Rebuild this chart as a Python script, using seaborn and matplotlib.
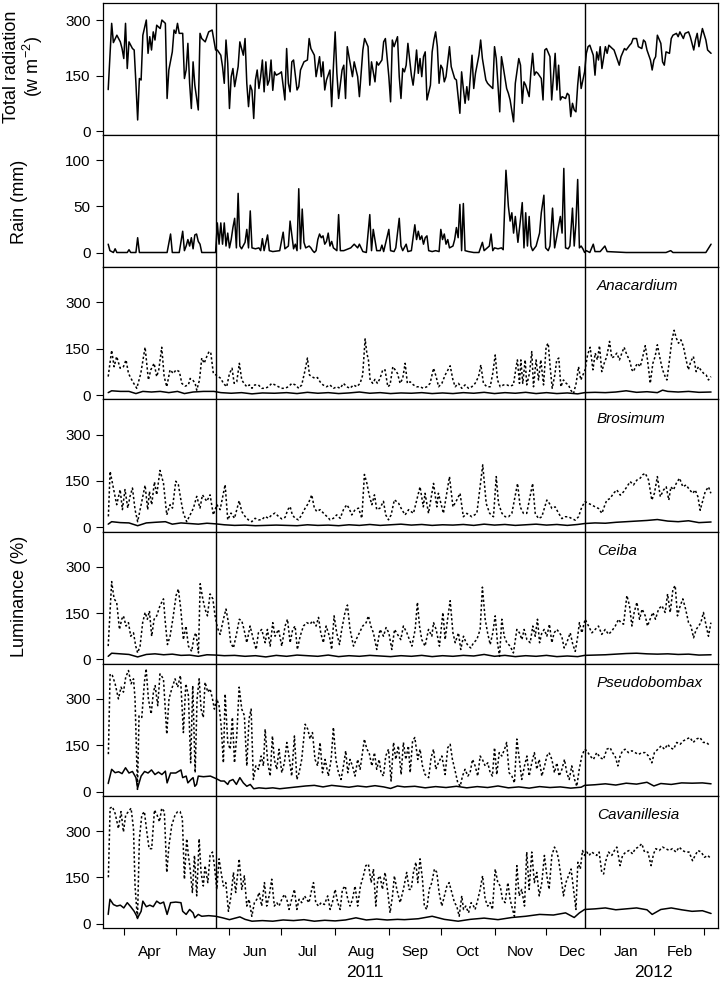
import numpy as np
import pandas as pd
import matplotlib
matplotlib.use("Agg")
import matplotlib.pyplot as plt
import matplotlib.dates as mdates
import matplotlib.ticker as mticker
import seaborn as sns

# ---------------- data (day offset from START, value) ----------------
START = "2011-03-22"

radiation = [(1,112),(3,291),(4,239),(6,259),(8,241),(9,223),(10,196),(11,291),(12,169),(13,241),(15,223),(16,219),(17,129),(18,30),(19,142),(20,138),(21,259),(23,300),(24,210),(25,255),(26,219),(27,268),(28,246),(29,286),(31,277),(32,300),(34,291),(35,88),(36,165),(38,214),(39,273),(40,264),(41,291),(42,264),(44,264),(45,142),(46,165),(47,237),(48,129),(49,61),(50,187),(51,124),(53,57),(54,264),(55,250),(57,241),(59,268),(61,273),(63,219),(64,219),(66,205),(67,174),(68,129),(69,246),(70,183),(71,61),(72,147),(73,169),(74,120),(76,174),(77,241),(79,205),(80,250),(81,129),(82,66),(83,124),(84,110),(85,34),(86,138),(87,165),(88,115),(89,147),(90,192),(91,106),(92,187),(93,124),(94,138),(95,192),(96,110),(97,160),(98,151),(100,156),(101,160),(103,84),(104,223),(105,129),(106,106),(107,187),(108,192),(110,111),(111,120),(112,165),(114,187),(116,192),(117,250),(118,223),(120,205),(121,147),(123,201),(124,147),(125,187),(126,111),(127,138),(129,165),(130,66),(131,174),(132,268),(133,156),(134,88),(136,165),(137,178),(138,88),(139,228),(141,174),(142,147),(143,187),(145,147),
             (146,93),(148,219),(149,250),(151,228),(152,124),(153,187),(155,133),(156,187),(157,178),(159,192),(160,241),(161,250),(163,147),(164,79),(165,246),(166,228),(168,255),(169,147),(170,88),(171,169),(172,160),(173,178),(174,237),(176,151),(177,124),(178,165),(179,219),(180,156),(181,196),(182,147),(183,201),(184,214),(185,84),(187,124),(188,214),(189,246),(190,268),(191,228),(192,129),(193,178),(194,169),(195,133),(196,147),(197,187),(198,228),(199,174),(201,142),(202,138),(204,48),(205,160),(206,115),(207,75),(208,120),(209,84),(211,205),(212,115),(213,156),(215,205),(216,246),(217,196),(219,138),(220,129),(221,124),(223,115),(224,228),(225,196),(227,52),(228,201),(229,174),(231,115),(232,102),(233,84),(235,25),(236,129),(238,196),(239,178),(240,75),(241,133),(242,124),(244,93),(245,160),(246,210),(247,151),(248,160),(249,156),(251,142),(252,84),(253,219),(254,223),(256,201),(257,84),(259,210),(260,111),(261,178),(262,84),(263,93),(265,88),(266,102),(267,97),(268,39),(269,75),(270,57),(271,52),(272,124),(273,174),(274,115),(276,160),(277,210),(278,228),(279,232),(281,205),(282,151),(283,214),(284,192),(285,228),(286,169),(288,228),(289,210),(290,232),(292,223),(293,219),(295,192),(296,178),(297,201),(299,223),(300,219),(302,232),(303,237),(304,250),(306,250),(307,228),(309,223),(310,246),(311,241),(312,219),(314,192),(315,165),(316,192),(317,201),(318,259),(320,237),(321,187),(322,178),(323,214),(325,210),(326,250),(327,259),(329,264),(330,255),(331,268),(333,250),(334,264),(336,268),(337,255),(339,219),(340,246),(341,264),(342,228),(344,277),(346,246),(347,219),(349,210)]

rain = [(1,9),(2,2),(4,0),(5,4),(6,0),(12,0),(13,3),(14,0),(17,0),(18,16),(19,0),(35,0),(37,20),(38,0),(42,0),(44,23),(45,2),(46,7),(47,14),(48,7),(49,16),(50,4),(51,19),(52,20),(53,12),(54,9),(55,0),(63,0),(64,32),(65,9),(66,32),(67,9),(68,32),(69,7),(70,21),(71,5),(72,14),(73,27),(74,37),(75,5),(76,64),(77,7),(78,4),(80,11),(81,25),(82,5),(83,45),(84,5),(86,4),(88,5),(89,2),(90,15),(91,2),(93,19),(94,2),(96,1),(100,2),(102,22),(103,4),(105,7),(106,34),(108,4),(109,9),(110,2),(111,69),(112,4),(113,47),(114,11),(115,5),(117,7),(118,5),(119,2),(120,0),(121,2),(122,14),(123,20),(124,16),(125,18),(126,9),(127,12),(128,21),(129,7),(130,12),(131,5),(133,2),(134,41),(135,2),(137,2),(141,5),(143,9),(145,5),(146,9),(148,1),(150,0),(152,41),(153,2),(154,25),(156,2),(158,2),(159,8),(160,1),(163,25),(164,2),(166,1),(167,5),(169,37),(170,7),(171,2),(173,9),(174,1),(176,2),(178,30),(179,14),(180,23),(181,14),(182,18),(183,9),(184,16),(185,18),(186,2),(188,1),(190,2),(192,1),(193,25),(194,14),(195,20),(196,9),(197,14),(198,5),(200,7),(201,14),(202,27),(203,16),(204,52),(205,2),(206,53),(207,2),(209,1),(212,0),(215,0),(217,11),(218,2),(221,7),(222,20),(223,2),(224,5),(226,4),(228,5),(229,3),(230.6,89),(232,50),(233,34),(234,43),(235,21),(236,39),(237.5,11),(239,36),(240,54),(241,5),(242,43),(243,7),(244,39),(245,7),(246,2),(248,7),(250,21),(251,43),(252.5,62),(253.5,5),(255,2),(256,7),(257.5,48),(258.7,5),(260,18),(261,29),(262,39),(263,21),(264,91),(265,5),(266.5,4),(267.5,7),(269,48),(270,7),(271,32),(272,79),(273,5),(274,7),(275,4),(276,0),(277,2),(279,0),(281,9),(282,1),(285,1),(287.7,7),(289,1),(300,0),(323,0),(325.7,2),(327,0),(346,0),(349,9)]

ana_dot = [(1,60),(3,145),(4.4,92),(5.9,125),(7.9,87),(9.8,92),(11.3,114),(12.7,70),(15.2,43),(17.5,22),(19.8,70),(22.3,155),(24.2,49),(25.6,82),(27.5,103),(29,60),(30.2,82),(31.9,155),(33.3,60),(34.8,27),(36.7,82),(38.6,70),(40.2,82),(42.1,76),(43.5,38),(45.4,29),(47.3,33),(48.3,54),(49.8,49),(51.2,38),(52.1,16),(53.7,49),(55,120),(56.4,103),(57.9,125),(59.2,141),(60.2,138),(61.7,70),(63.3,65),(64.6,60),(66,54),(67.5,38),(69.4,27),(71,70),(72.5,87),(73.7,38),(75.2,43),(76.7,103),(78.1,49),(79.4,38),(81,27),(82.5,33),(84,22),(85.6,33),(87.7,33),(89.6,22),(91.6,22),(93.5,27),(95.4,38),(97.3,33),(99.3,27),(101,22),(103,22),(105,27),(107,38),(109,33),(111,22),(112.7,33),(114.7,82),(116,120),(117.2,65),(118.5,60),(120.4,54),(121.8,57),(123.3,43),(125,33),(127,27),(129,33),(131,22),(133,27),(134.9,22),(136.8,38),(138.7,27),(140.6,22),(142.6,33),(144.5,27),(146.4,38),(147.9,65),(149.3,182),(150.3,136),(151.2,114),(152.2,49),(153.7,38),(155,51),(156.4,38),(157.9,54),(159.5,82),(160.8,82),(162.4,27),(163.7,33),(165.3,92),(166.6,82),(168,70),(169.5,38),(171,54),(172.4,103),(173.7,38),(175.3,43),(177.2,33),(179.1,27),(181,27),(182.9,22),(184.9,27),(186.8,38),(188.8,87),(190.3,60),(191.7,27),(193.6,38),(195.5,65),(198.4,95),(200,49),(201.3,27),(203.2,38),(205.1,22),(207,33),(209,22),(210.9,27),(212.8,38),(214.8,60),(216.1,98),(217.6,38),(219.6,27),(221.5,27),(223,71),(224.4,130),(225.7,49),(227.3,27),(229.2,33),(231.1,33),(233,29),(234.9,33),(236.5,92),(237.2,114),(238.4,38),(239.2,114),(240.3,38),(241.7,114),(242.6,33),(244.2,71),(245.5,141),(246.5,27),(248,114),(249.4,49),(250.7,114),(252.3,33),(253.8,158),(255,168),(256.1,92),(257.3,22),(258.8,65),(259.9,114),(261.1,120),(262.3,27),(263.8,49),(265.4,38),(266.7,33),(268,16),(269.6,5),(271.1,38),(272.5,92),(273.8,49),(275,65),(276.3,82),(277.7,130),(279.2,155),(280.8,82),(282.1,136),(283.4,114),(284.6,160),(285.9,76),(287.3,103),(288.8,125),(290.4,174),(291.7,120),(293,125),(294.6,136),(296.1,114),(297.5,136),(298.8,155),(300.4,130),(301.9,114),(303.3,82),(304.2,76),(305.4,92),(306.5,103),(308.1,92),(309.6,125),(311,160),(312.3,114),(313.9,38),(315.4,103),(316.7,125),(318,163),(319.7,114),(321,82),(322.5,60),(323.5,49),(325,114),(326.4,179),(327.7,210),(328.9,185),(330.2,168),(331.6,179),(333,158),(334.6,114),(335.9,82),(337.3,109),(338.8,125),(340.4,76),(341.7,92),(343,82),(344.6,71),(346.2,65),(347.5,49),(348.9,60)]
ana_sol = [(1,8),(3,14),(8,12),(13,12),(17,5),(21,12),(26,10),(31,12),(36,8),(41,12),(45,5),(50,10),(56,12),(62,12),(66,8),(72,6),(78,8),(84,4),(90,7),(97,6),(104,8),(110,5),(116,9),(122,6),(128,8),(134,5),(140,7),(146,10),(152,6),(158,8),(164,5),(170,7),(176,6),(182,8),(188,5),(194,7),(200,5),(206,8),(212,6),(218,9),(224,5),(230,8),(236,6),(242,9),(248,5),(254,8),(260,5),(266,7),(272,4),(276,8),(282,9),(288,8),(294,10),(300,14),(306,9),(312,11),(318,8),(321,16),(324,12),(330,10),(336,12),(342,9),(349,10)]

bro_dot = [(1.1,35),(2.1,181),(4,127),(5.9,73),(7.9,122),(9.2,57),(10.7,122),(12.3,62),(13.6,100),(15,127),(16.5,57),(18,18),(20.4,84),(22.3,136),(23.8,57),(24.8,116),(26.1,73),(27.7,147),(29,105),(30.9,184),(32.9,143),(34.8,40),(36.7,73),(38.1,62),(40,149),(41.5,138),(43.1,84),(44.4,46),(46.3,18),(48.3,40),(50.2,62),(52.1,100),(54,62),(55.4,105),(57.9,84),(59.8,105),(61.7,40),(63.7,73),(65.6,57),(68.5,138),(70,24),(71.9,46),(73.9,29),(76.6,86),(78.1,51),(80,35),(81.9,24),(83.9,18),(85.8,29),(87.7,24),(89.6,24),(91.6,35),(93.5,29),(95.4,40),(97.3,46),(99.3,35),(101.2,27),(103.1,32),(104.7,57),(106,67),(107.3,40),(108.9,29),(110.8,24),(112.7,40),(114.7,62),(116.6,78),(118.5,105),(120,62),(121.4,51),(123.3,57),(125.2,46),(127.2,35),(129.1,24),(131,29),(132.9,40),(134.9,29),(136.8,57),(138.7,73),(140,62),(141.6,40),(143.5,57),(145.5,62),(147.4,29),(148.9,171),(150.3,143),(151.6,105),(153.2,73),(154.7,105),(156,57),(157.9,62),(159.9,84),(161.2,40),(162.8,24),(164.3,40),(166.2,89),(168.6,78),(170.5,57),(172.4,40),(174.4,57),(177.2,45),(181,131),(182.9,66),(183.9,110),(185.9,45),(188.8,142),(190.7,66),(191.6,110),(194.5,45),(198,164),(200,66),(202.2,88),(204.1,110),(206,34),(208,45),(210.9,34),(213.8,45),(217.2,202),(219.2,77),(221.2,45),(223.4,34),(225,164),(226.3,77),(228.3,45),(230.2,34),(232.1,34),(234,45),(237.3,142),(238.8,66),(240.7,45),(242.6,45),(246,142),(247.5,45),(249.4,28),(251.3,34),(254.2,88),(255.7,77),(257.1,61),(259,66),(261,45),(262.9,28),(264.8,34),(266.7,34),(268.6,28),(270.6,23),(272.5,34),(274.4,66),(276.3,83),(278.3,77),(280.2,72),(282.1,66),(284,61),(286,45),(287.3,66),(288.8,88),(290.7,93),(292.7,110),(294.6,121),(296.6,104),(298.5,115),(300.4,131),(302.3,148),(304.2,137),(306.2,153),(308.1,159),(309.6,170),(311,175),(312.9,153),(314.8,88),(316.3,110),(318,164),(319.7,99),(321.6,121),(323.1,131),(324.6,88),(325.8,131),(327.3,121),(328.9,142),(330.8,159),(332.7,131),(334.6,137),(336.6,121),(338.5,110),(339.8,121),(341.4,99),(342.7,55),(344.3,88),(345.6,115),(347.5,131),(348.9,110)]
bro_sol = [(1,10),(3,18),(8,15),(13,14),(18,5),(23,14),(28,16),(34,18),(38,10),(43,14),(48,12),(53,10),(58,13),(63,11),(68,8),(74,6),(80,7),(86,5),(92,6),(98,7),(104,6),(110,5),(116,8),(122,6),(128,7),(134,5),(140,8),(146,6),(152,9),(158,6),(164,8),(170,10),(176,7),(182,9),(188,6),(194,8),(200,7),(206,9),(212,6),(218,10),(224,7),(230,9),(236,6),(242,8),(248,10),(254,7),(260,9),(266,6),(272,9),(276,12),(282,14),(288,13),(294,16),(300,18),(306,20),(312,22),(318,25),(324,20),(330,18),(336,21),(342,15),(349,17)]

cei_dot = [(1,43),(3,252),(4.4,196),(5.9,185),(7.5,97),(8.8,130),(9.8,141),(11.3,108),(12.7,119),(14,75),(15.6,86),(16.9,43),(18,21),(19.4,43),(20.9,119),(22.3,152),(23.6,130),(24.8,157),(26.1,75),(27.5,130),(29,141),(30.9,174),(32.9,196),(33.8,130),(35.2,48),(36.7,75),(38.3,130),(40.2,207),(41.5,228),(42.9,163),(44.4,64),(45.9,108),(47.3,43),(49.2,26),(50.6,75),(51.7,86),(53.1,21),(54.1,245),(55.6,196),(56.9,163),(58.3,141),(59.8,212),(61.4,196),(62.7,141),(64,103),(65.6,81),(67.5,130),(69,163),(70.4,119),(71.7,54),(73.3,37),(75.2,86),(76.7,130),(78.1,125),(79.4,97),(81,54),(82.9,108),(84.8,64),(86.4,32),(87.7,86),(89.6,97),(91.6,54),(92.9,97),(94.5,43),(96,119),(97.3,75),(99.3,97),(101.2,43),(103.1,108),(104.5,130),(106,54),(107.5,97),(108.9,108),(110.2,32),(111.8,75),(113.7,108),(115.6,119),(117.5,114),(119.1,125),(121,108),(122.4,136),(123.7,86),(125.2,54),(126.8,108),(128.7,75),(130,32),(131.4,141),(132.9,86),(134.5,48),(135.8,97),(137.7,152),(139.1,176),(140.6,97),(142.6,43),(144.1,64),(146,86),(147.9,108),(149.9,119),(151.2,141),(152.6,108),(154.1,86),(156,32),(157.9,97),(159.9,75),(161.4,103),(163,86),(164.7,32),(166.3,97),(168,81),(169.9,64),(171.4,108),(173.4,86),(176.3,43),(178.2,97),(179.5,185),(180.7,108),(182,64),(183.9,43),(185.9,97),(187.8,75),(188.8,119),(190.3,97),(192.2,43),(194.2,152),(195.5,64),(196.9,130),(198.4,190),(200,86),(201.3,54),(203.2,86),(204.5,32),(206.1,75),(207.6,54),(209,43),(210.3,37),(211.9,54),(213.8,64),(215.7,97),(217,234),(218.6,130),(220,86),(221.5,48),(223,86),(224.4,141),(225.7,54),(226.9,10),(228.2,130),(229.6,75),(231.1,54),(233,43),(234.9,21),(236.9,97),(238.4,86),(239.8,64),(241.1,97),(242.7,64),(244.6,54),(246.1,108),(247.5,75),(248.8,130),(250,54),(251.3,86),(252.7,97),(254.2,75),(255.7,114),(257.1,54),(258.4,86),(260,97),(261.5,86),(262.8,75),(264.2,37),(265.7,54),(267.7,86),(269.2,48),(270.6,26),(271.9,70),(273,119),(274.4,86),(276.3,130),(278.3,108),(280.2,86),(282.1,97),(284,108),(285.9,81),(287.9,97),(289.8,81),(291.7,92),(293.7,108),(295.6,130),(296.9,119),(298.5,114),(300.4,207),(301.9,174),(303.3,108),(304.6,152),(306.2,185),(307.7,130),(309.2,163),(311,141),(312.3,108),(313.8,130),(315.4,152),(316.9,130),(318.7,163),(320.6,174),(322.5,152),(323.9,212),(325.4,152),(327,228),(328.3,239),(329.6,141),(331.2,174),(332.7,196),(334.3,163),(336,119),(337.4,108),(338.9,70),(340.4,97),(341.8,108),(343.1,119),(344.6,152),(346.2,108),(347.5,75),(348.9,119)]
cei_sol = [(1,10),(3,20),(8,18),(13,16),(18,8),(23,16),(28,18),(33,15),(38,17),(43,13),(48,14),(53,10),(58,15),(63,14),(68,12),(74,13),(80,10),(86,12),(92,8),(98,13),(104,10),(110,14),(116,12),(122,10),(128,14),(134,9),(140,12),(146,10),(152,13),(158,11),(164,9),(170,12),(176,10),(182,13),(188,9),(194,12),(200,10),(206,13),(212,11),(218,16),(224,10),(230,13),(236,9),(242,12),(248,10),(254,13),(260,9),(266,11),(272,9),(276,13),(282,14),(288,15),(294,17),(300,19),(306,20),(312,18),(318,17),(324,18),(330,16),(336,17),(342,14),(349,15)]

pse_dot = [(1.1,121),(2.1,381),(3.4,376),(5,349),(6.9,300),(8.4,338),(9.8,322),(11.1,370),(12.7,392),(14.2,349),(15.6,365),(16.5,300),(17.9,7),(18.8,245),(20.4,240),(21.9,354),(22.9,398),(24.2,300),(25.8,251),(27.1,322),(28.1,343),(29.6,278),(30.9,381),(32.9,365),(34.8,186),(36.1,300),(37.7,333),(39.6,365),(41.1,338),(42.7,376),(44.4,191),(45.8,349),(47.3,311),(48.6,93),(49.8,343),(51.2,61),(52.3,300),(53.5,365),(54.6,267),(55.9,240),(56.9,354),(58.5,322),(59.8,333),(61.2,300),(62.3,267),(63.7,300),(65,278),(66.2,213),(67.5,93),(68.5,316),(70,159),(71.4,137),(72.7,240),(73.9,93),(75.2,180),(76.6,338),(78.1,267),(79.6,246),(81,83),(82.3,235),(83.5,267),(84.8,39),(86.2,83),(87.7,72),(89.3,115),(90.6,83),(91.6,202),(93.1,93),(94.5,50),(95.8,180),(96.9,104),(98.3,72),(99.6,137),(101.2,61),(102.7,93),(104.1,159),(105.6,104),(106.9,50),(108.5,180),(109.9,39),(111.2,61),(112.7,104),(114.7,218),(116.2,202),(117.5,170),(118.9,191),(120.4,104),(121.9,83),(123.3,159),(124.7,61),(126.2,104),(128.1,50),(129.7,104),(131,208),(132.4,104),(133.9,61),(135.4,39),(136.8,83),(138.1,132),(139.3,61),(140.6,104),(142,83),(143.5,50),(145,104),(146.4,72),(147.8,126),(148.9,170),(150.3,137),(151.6,126),(153.2,83),(154.7,126),(156,72),(157.4,104),(158.5,61),(159.9,50),(161.2,115),(162.8,137),(164.3,34),(165.7,159),(167,104),(168.5,148),(170.1,55),(171.4,159),(172.8,104),(174.3,148),(175.3,61),(176.7,164),(178,175),(179.7,104),(181,137),(182.4,83),(183.9,55),(186,45),(187.4,110),(188.8,137),(190.1,72),(191.6,93),(193.6,115),(195.5,55),(197,142),(198.4,153),(199.7,104),(201.3,66),(202.8,28),(204.2,17),(205.5,50),(207,72),(208.6,50),(209.9,61),(211.3,104),(212.8,83),(214.3,50),(215.7,115),(217,104),(218.6,83),(220.1,93),(221.5,61),(222.8,50),(224,142),(225.3,55),(226.7,126),(228.2,115),(229.8,137),(231,159),(232.4,61),(234,50),(235.5,28),(236.9,170),(238.3,104),(239.7,39),(241.3,83),(242.7,115),(244,50),(245.5,93),(247,126),(248.4,72),(249.8,104),(251.3,50),(252.9,83),(254.2,115),(255.5,126),(257.1,104),(258.6,61),(260,93),(261.3,50),(262.9,72),(264.4,104),(265.7,61),(267.1,39),(268.6,83),(270.2,39),(271.5,17),(272.9,72),(274.4,115),(276,137),(277.3,132),(279.2,115),(281.1,104),(283,126),(285,110),(286.9,104),(288.8,137),(290.7,142),(292.1,126),(293.6,115),(295.2,83),(296.5,115),(297.9,132),(299.4,137),(301.3,126),(303.3,132),(305.2,126),(307.1,120),(309,126),(311,126),(312.9,115),(314.8,93),(316.3,126),(318.3,137),(320.2,148),(322.1,137),(324,153),(325.4,142),(327.3,137),(329.2,159),(331.1,153),(333,164),(334.9,170),(336.8,175),(338.7,159),(340.6,170),(342.6,175),(344.5,159),(346.4,159),(348.3,148)]
pse_sol = [(1,26),(3,72),(5,61),(7,64),(9,58),(11,77),(13,60),(15,65),(17,45),(18,12),(20,50),(22,65),(24,60),(26,70),(28,55),(30,63),(32,55),(34,66),(35,28),(37,60),(40,60),(43,70),(44,45),(46,50),(47,28),(49,40),(50,45),(51,17),(52,23),(53,50),(56,48),(60,50),(62,45),(64,40),(66,34),(68,34),(70,23),(71,34),(73,39),(75,23),(77,45),(79,28),(81,17),(83,23),(85,9),(88,12),(92,10),(96,12),(100,9),(105,12),(110,15),(115,18),(120,20),(125,15),(130,20),(135,17),(140,14),(145,18),(150,15),(155,19),(160,15),(164,10),(168,18),(172,15),(178,17),(184,12),(190,16),(196,13),(202,17),(208,12),(214,16),(220,13),(226,18),(232,12),(238,15),(244,11),(250,16),(256,13),(262,15),(268,11),(274,14),(276,20),(282,22),(288,25),(294,21),(300,27),(306,24),(312,30),(316,18),(320,26),(326,23),(332,28),(338,27),(344,28),(349,25)]

cav_dot = [(1.1,150),(2.1,374),(3.4,379),(5,357),(6.9,308),(8.4,363),(9.8,297),(11.1,352),(12.7,363),(14.2,374),(15.6,308),(16.5,122),(17.9,13),(19,275),(20.4,352),(21.9,363),(23.3,297),(24.6,243),(26.1,243),(27.7,368),(29.2,352),(30.6,330),(31.9,374),(33.4,363),(34.8,166),(36.1,254),(37.7,319),(39.6,352),(41.1,363),(42.5,363),(43.8,341),(45,144),(46.3,275),(47.3,221),(48.3,177),(49.6,101),(50.8,221),(52.1,90),(53.5,275),(54.6,166),(55.9,122),(56.9,188),(58.5,133),(59.8,221),(61.2,232),(62.3,188),(63.7,111),(65,210),(66.2,166),(67.5,122),(68.9,133),(70.4,40),(71.9,90),(73.3,166),(74.6,101),(76.6,210),(78.1,111),(79.6,155),(81,57),(82.3,79),(83.9,24),(85.4,68),(86.8,79),(88.1,101),(89.6,57),(91.2,133),(92.5,57),(93.9,90),(95.4,144),(96.9,57),(98.3,68),(99.6,57),(101.2,79),(102.7,95),(104.1,79),(105.4,46),(106.9,79),(108.5,111),(109.9,46),(111.2,79),(112.7,68),(114.3,90),(115.6,79),(116.9,68),(118.5,111),(119.5,133),(120.8,68),(122.4,57),(123.9,68),(125.8,62),(127.7,90),(129.1,46),(130.4,68),(132,111),(133.5,68),(134.9,46),(136.2,111),(137.8,122),(139.3,79),(140.6,57),(142,79),(143.5,122),(145,57),(146.6,122),(148.3,155),(149.7,188),(151.2,193),(152.8,133),(154.1,177),(155.5,57),(156.6,144),(157.9,155),(159.3,111),(160.8,166),(162.4,101),(163.7,35),(165.1,90),(166.2,155),(167.6,111),(169.5,68),(171.4,111),(173.3,166),(174.7,111),(175.9,111),(177.2,166),(178.6,199),(179.7,133),(181,210),(182.4,144),(183.5,57),(184.9,46),(186.3,111),(187.8,133),(189.3,177),(190.7,166),(192,101),(193.6,57),(195.1,90),(196.5,122),(197.8,133),(199.3,101),(200.9,68),(202.2,57),(203.6,24),(205.1,90),(206.1,46),(207.4,57),(209,35),(210.5,68),(211.9,57),(212.8,46),(214.4,79),(215.7,111),(217.1,155),(218.6,79),(220.1,57),(221.5,68),(222.8,46),(224.4,177),(225.9,133),(227.3,122),(228.6,79),(230.1,68),(231.7,133),(233,79),(234.4,46),(235.5,24),(236.9,188),(238.2,90),(239.7,111),(241.3,57),(242.6,232),(244,111),(245.5,232),(247,133),(248.4,166),(249.8,90),(251.3,133),(252.8,221),(254.2,155),(255.5,111),(257.1,221),(258.6,248),(260,232),(260.9,210),(262.3,155),(263.8,90),(265.2,133),(266.7,155),(268.2,177),(269.6,111),(271,46),(272.1,199),(273.5,177),(274.8,237),(275.9,221),(277.3,232),(278.6,221),(280.1,232),(281.7,226),(283,221),(284.4,232),(285.9,166),(287,161),(288,199),(289.8,232),(291.7,221),(293.2,237),(294.6,248),(296.5,188),(297.9,221),(299.8,232),(301.7,237),(303.7,226),(305.2,243),(307.1,248),(309,259),(310.6,232),(312.5,232),(314.4,188),(315.8,226),(317.1,243),(319.1,237),(321,248),(322.9,243),(324.8,237),(326.7,243),(328.7,232),(330.6,248),(332.5,237),(334.4,232),(336.3,232),(338.3,204),(339.8,221),(341.4,237),(343.3,232),(345.2,215),(347.1,221),(349,210)]
cav_sol = [(1,30),(2,79),(4,62),(6,57),(8,60),(10,51),(12,68),(14,55),(16,40),(18,19),(20,40),(21,73),(23,55),(25,60),(27,55),(29,73),(31,65),(33,70),(35,30),(37,68),(40,70),(43,68),(44,40),(46,30),(48,46),(50,35),(51,19),(53,30),(55,24),(59,26),(63,24),(67,19),(71,13),(75,19),(77,22),(80,14),(84,8),(90,10),(96,8),(102,12),(108,10),(114,13),(120,8),(126,11),(132,9),(138,12),(144,19),(150,12),(156,15),(162,12),(168,14),(172,13),(180,16),(188,24),(195,14),(203,8),(210,14),(218,18),(226,13),(234,20),(242,24),(250,30),(258,28),(265,35),(270,20),(273,35),(276,46),(282,48),(288,51),(294,45),(300,48),(306,51),(312,45),(315,30),(320,46),(326,51),(332,45),(338,40),(344,42),(349,33)]

species = ["Anacardium", "Brosimum", "Ceiba", "Pseudobombax", "Cavanillesia"]
lum_dotted = [ana_dot, bro_dot, cei_dot, pse_dot, cav_dot]
lum_solid = [ana_sol, bro_sol, cei_sol, pse_sol, cav_sol]
month_labels = ["Apr", "May", "Jun", "Jul", "Aug", "Sep", "Oct", "Nov", "Dec", "Jan", "Feb"]
year_labels = ["2011", "2012"]
year_positions = ["2011-08-18", "2012-02-01"]
season_breaks = ["2011-05-24", "2011-12-23"]
x_range = ["2011-03-20", "2012-03-09"]


def to_df(pairs):
    d = pd.DataFrame(pairs, columns=["day", "value"])
    d["date"] = pd.Timestamp(START) + pd.to_timedelta(d["day"], unit="D")
    return d


# ---------------- style ----------------
sns.set_style("ticks")
plt.rcParams["font.family"] = ["Liberation Sans", "DejaVu Sans"]
plt.rcParams["mathtext.fontset"] = "custom"
plt.rcParams["mathtext.rm"] = "Liberation Sans"
plt.rcParams["mathtext.it"] = "Liberation Sans:italic"
plt.rcParams["axes.linewidth"] = 0.9
plt.rcParams["axes.edgecolor"] = "black"
plt.rcParams["text.color"] = "black"
plt.rcParams["axes.labelcolor"] = "black"
plt.rcParams["xtick.color"] = "black"
plt.rcParams["ytick.color"] = "black"

W, H = 721, 988
fig, axes = plt.subplots(7, 1, figsize=(W / 100, H / 100), dpi=100, sharex=True)
fig.subplots_adjust(left=103 / W, right=718 / W, top=1 - 3 / H, bottom=1 - 928 / H, hspace=0)

line_kw = dict(color="black", linewidth=1.1, estimator=None, legend=False)

# radiation
sns.lineplot(data=to_df(radiation), x="date", y="value", ax=axes[0], **line_kw)
axes[0].set_ylim(-11, 346)
axes[0].set_yticks([0, 150, 300])

# rain
sns.lineplot(data=to_df(rain), x="date", y="value", ax=axes[1], **line_kw)
axes[1].set_ylim(-16, 127)
axes[1].set_yticks([0, 50, 100])

for i, name in enumerate(species):
    ax = axes[i + 2]
    sns.lineplot(data=to_df(lum_dotted[i]), x="date", y="value", ax=ax,
                 linestyle=(0, (1.5, 1.5)), **line_kw)
    sns.lineplot(data=to_df(lum_solid[i]), x="date", y="value", ax=ax, **line_kw)
    ax.set_ylim(-14, 414)
    ax.set_yticks([0, 150, 300])
    ax.text(0.803, 0.855, name, transform=ax.transAxes, fontsize=11,
            style="italic", ha="left", va="center", color="black")

xlim = [pd.Timestamp(x_range[0]), pd.Timestamp(x_range[1])]
month_starts = pd.date_range("2011-04-01", "2012-03-01", freq="MS")
month_mid = pd.date_range("2011-04-01", periods=len(month_labels), freq="MS") + pd.Timedelta(days=15)

for k, ax in enumerate(axes):
    for b in season_breaks:
        ax.axvline(pd.Timestamp(b), color="black", linewidth=1.0)
    ax.set_xlabel("")
    ax.set_ylabel("")
    for s in ax.spines.values():
        s.set_visible(True)
        s.set_color("black")
        s.set_linewidth(0.9)
    ax.tick_params(axis="y", direction="out", length=5, width=0.8, pad=4,
                   labelsize=11, colors="black")
    ax.tick_params(axis="x", which="both", bottom=False, labelbottom=False)

ax = axes[-1]
ax.set_xlim(xlim)
ax.xaxis.set_major_locator(mticker.FixedLocator(mdates.date2num(month_starts)))
ax.xaxis.set_major_formatter(mticker.NullFormatter())
ax.xaxis.set_minor_locator(mticker.FixedLocator(mdates.date2num(month_mid)))
ax.xaxis.set_minor_formatter(mticker.FixedFormatter(month_labels))
ax.tick_params(axis="x", which="major", bottom=True, direction="out", length=5, width=0.8)
ax.tick_params(axis="x", which="minor", bottom=True, labelbottom=True, length=0, pad=12,
               labelsize=11, colors="black")
for lbl, pos in zip(year_labels, year_positions):
    ax.text(mdates.date2num(pd.Timestamp(pos)), -0.335, lbl,
            transform=ax.get_xaxis_transform(), ha="center", va="center", fontsize=12.5)

fig.text(24 / W, 1 - 67 / H, "Total radiation\n(w m$^{-2}$)", rotation=90,
         ha="center", va="center", fontsize=13, multialignment="center", linespacing=1.05)
fig.text(20 / W, 1 - 202 / H, "Rain (mm)", rotation=90, ha="center", va="center", fontsize=13)
fig.text(20 / W, 1 - 596 / H, "Luminance (%)", rotation=90, ha="center", va="center", fontsize=13)

fig.savefig("out.png", dpi=100, facecolor="white")
